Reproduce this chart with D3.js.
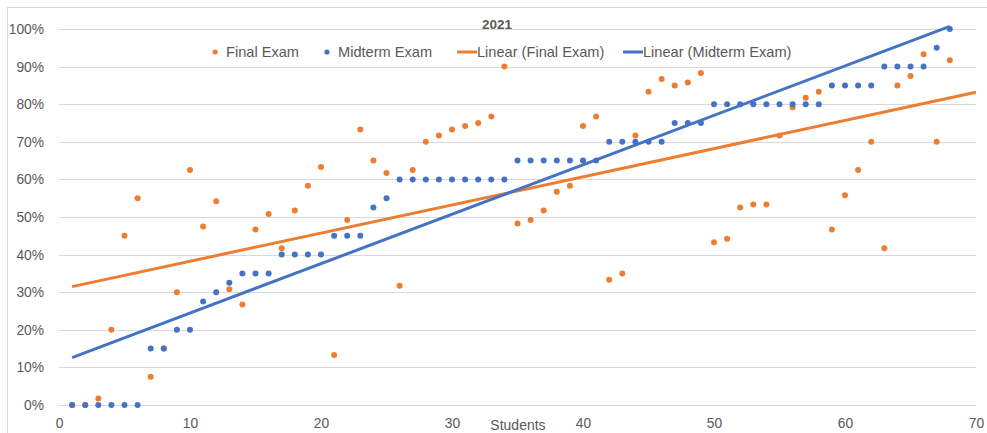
<!DOCTYPE html>
<html><head><meta charset="utf-8">
<script src="https://cdn.jsdelivr.net/npm/d3@7"></script>
<style>
body{margin:0;background:#fff;}
svg{display:block;font-family:"Liberation Sans",Arial,sans-serif;}
</style></head>
<body><svg id="c" width="987" height="433"></svg>
<script>
const title = "2021";
const xTitle = "Students";
const students = d3.range(1, 69);
const finalExam = [0,0,1.7,20,45,55,7.5,15,30,62.5,
  47.5,54.2,30.8,26.7,46.7,50.8,41.7,51.7,58.3,63.3,
  13.3,49.2,73.3,65,61.7,31.7,62.5,70,71.7,73.3,
  74.2,75,76.7,90,48.3,49.2,51.7,56.7,58.3,74.2,
  76.7,33.3,35,71.7,83.3,86.7,85,85.8,88.3,43.3,
  44.2,52.5,53.3,53.3,71.7,79.2,81.7,83.3,46.7,55.8,
  62.5,70,41.7,85,87.5,93.3,70,91.7];
const midtermExam = [0,0,0,0,0,0,15,15,20,20,
  27.5,30,32.5,35,35,35,40,40,40,40,
  45,45,45,52.5,55,60,60,60,60,60,
  60,60,60,60,65,65,65,65,65,65,
  65,70,70,70,70,70,75,75,75,80,
  80,80,80,80,80,80,80,80,85,85,
  85,85,90,90,90,90,95,100];
const xTicks = [0,10,20,30,40,50,60,70];
const yTicks = [0,10,20,30,40,50,60,70,80,90,100];
const seriesNames = ["Final Exam","Midterm Exam","Linear (Final Exam)","Linear (Midterm Exam)"];
const colors = {final:"#ED7D31", mid:"#4472C4"};

const svg = d3.select("#c");
const x = d3.scaleLinear().domain([0,70]).range([59,976]);
const y = d3.scaleLinear().domain([0,100]).range([405,29]);
const txt = "#595959";

// chart border
svg.append("rect").attr("x",7.5).attr("y",7.5).attr("width",1000).attr("height",1000)
  .attr("fill","none").attr("stroke","#d9d9d9");

// gridlines
svg.append("g").selectAll("line").data(yTicks).join("line")
  .attr("x1",x(0)).attr("x2",x(70)).attr("y1",d=>Math.round(y(d))+0.5).attr("y2",d=>Math.round(y(d))+0.5)
  .attr("stroke","#d9d9d9").attr("stroke-width",1);

// y axis labels
const yAxis = d3.axisLeft(y).tickValues(yTicks).tickFormat(d=>d+"%").tickSize(0).tickPadding(0);
const ga = svg.append("g").attr("transform","translate(44,0)").call(yAxis);
ga.select(".domain").remove();
ga.selectAll("text").attr("fill",txt).style("font-size","13.8px").style("font-family","'Liberation Sans',Arial,sans-serif");

// x axis labels
const xAxis = d3.axisBottom(x).tickValues(xTicks).tickSize(0).tickPadding(0);
const gx = svg.append("g").attr("transform","translate(0,418)").call(xAxis);
gx.select(".domain").remove();
gx.selectAll("text").attr("fill",txt).style("font-size","13.8px").style("font-family","'Liberation Sans',Arial,sans-serif");

svg.append("text").attr("x",518).attr("y",430).attr("text-anchor","middle")
  .attr("fill",txt).style("font-size","14px").text(xTitle);

// regression
function fit(xs, ys){
  const mx = d3.mean(xs), my = d3.mean(ys);
  let sxy=0, sxx=0;
  xs.forEach((v,i)=>{sxy+=(v-mx)*(ys[i]-my); sxx+=(v-mx)*(v-mx);});
  const b = sxy/sxx; return {b, a: my-b*mx};
}
const fF = fit(students, finalExam), fM = fit(students, midtermExam);
const line = d3.line().x(d=>x(d[0])).y(d=>y(d[1]));

// points
svg.append("g").selectAll("circle").data(students).join("circle")
  .attr("cx",d=>x(d)).attr("cy",(d,i)=>y(finalExam[i])).attr("r",3).attr("fill",colors.final);
svg.append("g").selectAll("circle").data(students).join("circle")
  .attr("cx",d=>x(d)).attr("cy",(d,i)=>y(midtermExam[i])).attr("r",3).attr("fill",colors.mid);

// trendlines
svg.append("path").attr("d",line([[1,fF.a+fF.b*1],[70,fF.a+fF.b*70]]))
  .attr("stroke",colors.final).attr("stroke-width",3).attr("fill","none");
svg.append("path").attr("d",line([[1,fM.a+fM.b*1],[68,fM.a+fM.b*68]]))
  .attr("stroke",colors.mid).attr("stroke-width",3).attr("fill","none");

// title
svg.append("text").attr("x",497).attr("y",29).attr("text-anchor","middle")
  .attr("fill",txt).style("font-size","13.5px").style("font-weight","bold").text(title);

// legend
const ly = 52;
const lg = svg.append("g");
const items = [
  {name:seriesNames[0], c:colors.final, type:"dot", x:215},
  {name:seriesNames[1], c:colors.mid, type:"dot", x:327},
  {name:seriesNames[2], c:colors.final, type:"line", x:457},
  {name:seriesNames[3], c:colors.mid, type:"line", x:623}
];
items.forEach(it=>{
  if(it.type==="dot"){
    lg.append("circle").attr("cx",it.x).attr("cy",ly).attr("r",2.6).attr("fill",it.c);
    lg.append("text").attr("x",it.x+11).attr("y",ly+5).attr("fill",txt).style("font-size","14.6px").text(it.name);
  } else {
    lg.append("line").attr("x1",it.x).attr("x2",it.x+20).attr("y1",ly).attr("y2",ly)
      .attr("stroke",it.c).attr("stroke-width",3);
    lg.append("text").attr("x",it.x+20).attr("y",ly+5).attr("fill",txt).style("font-size","14.6px").text(it.name);
  }
});
</script></body></html>
